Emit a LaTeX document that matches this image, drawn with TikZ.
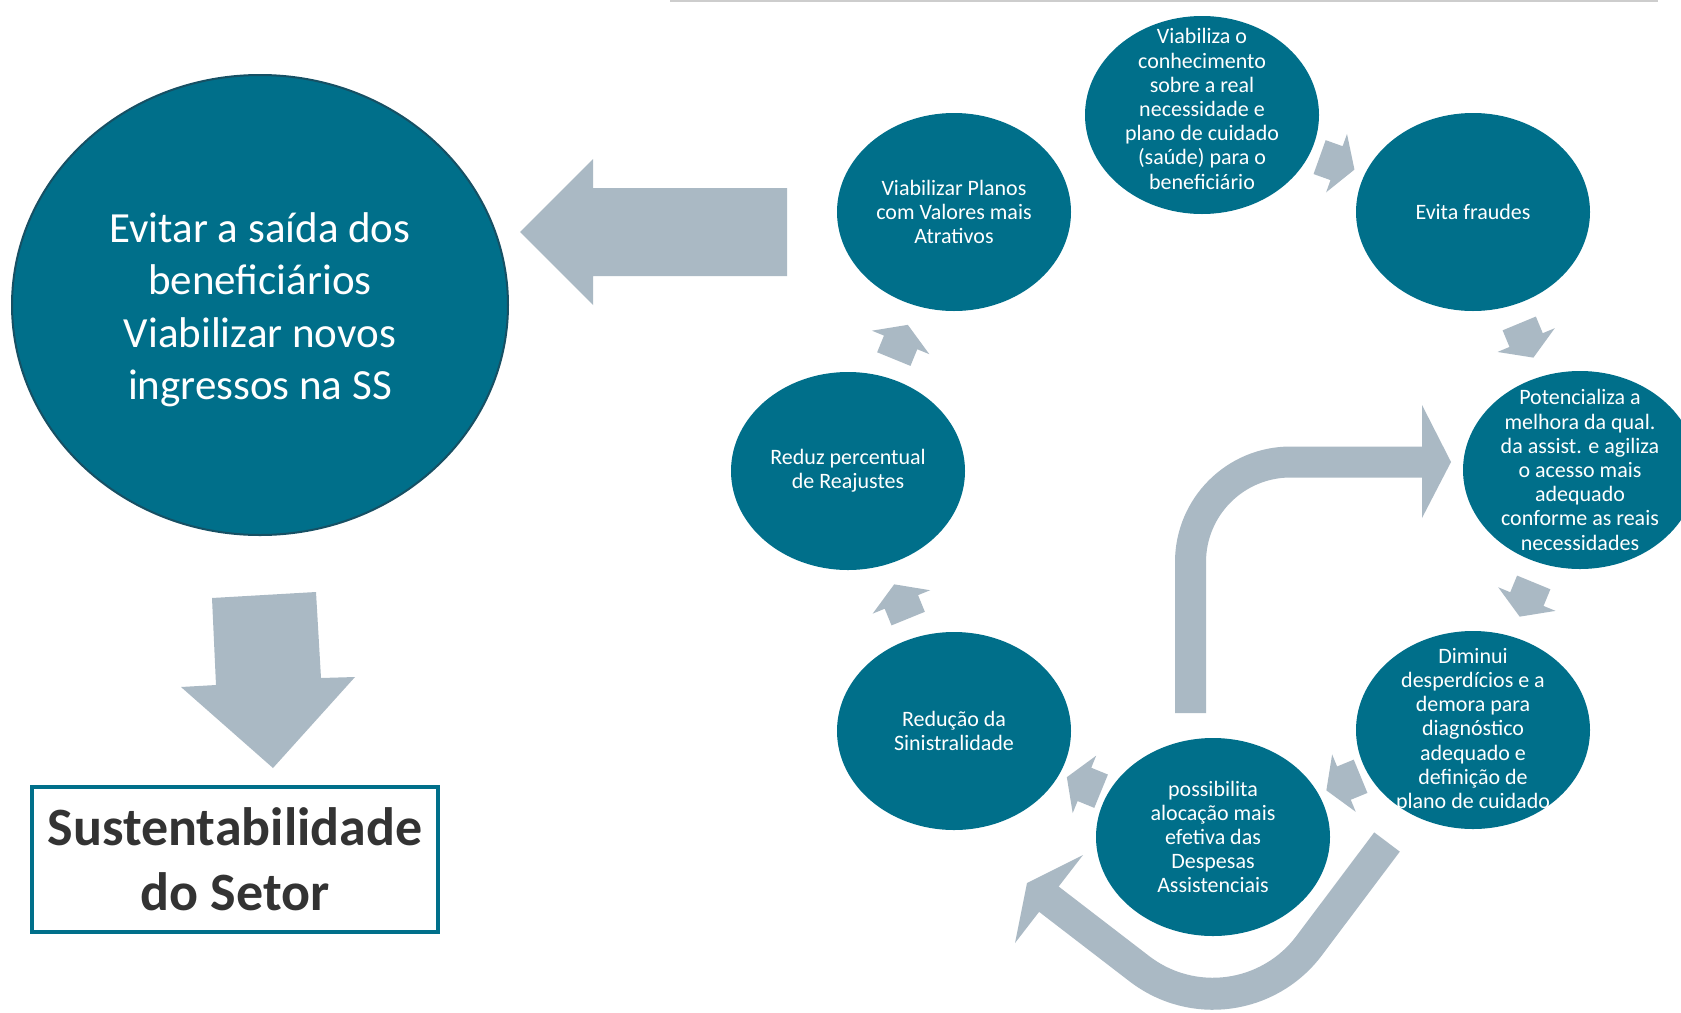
\documentclass[tikz,border=0pt]{standalone}
\usepackage{fontspec}
\setmainfont{Carlito}
\usetikzlibrary{shapes.geometric,calc}
\definecolor{tealfill}{RGB}{0,111,138}
\definecolor{tealedge}{RGB}{22,80,100}
\definecolor{arrowgray}{RGB}{170,185,196}
\definecolor{darktext}{RGB}{51,51,51}
\definecolor{ruleline}{RGB}{205,205,205}

\begin{document}
\begin{tikzpicture}[x=1pt,y=-1pt,
  bubble/.style={ellipse, fill=tealfill, minimum width=234pt, minimum height=198pt, inner sep=0pt},
  bubbletext/.style={text=white, align=center, inner sep=0pt, font=\fontsize{22}{24.2}\selectfont},
  chev/.pic={\fill[arrowgray] (-19,-18) -- (-1,-18) -- (-1,-31) -- (18,0) -- (-1,31) -- (-1,18) -- (-19,18) -- cycle;},
  bandarrow/.style={draw=arrowgray, line width=31pt},
]
% page frame
\fill[white] (0,0) rectangle (1681,1012);
\useasboundingbox (0,0) rectangle (1681,1012);

% thin rule along the top edge
\draw[ruleline, line width=2pt] (670,1) -- (1658,1);

% main goal
\node[ellipse, fill=tealfill, draw=tealedge, line width=2pt, minimum width=496pt, minimum height=460pt,
      inner sep=0pt, label={[text=white, align=center, inner sep=0pt, yshift=-5pt, font=\fontsize{43}{52.5}\selectfont]center:{Evitar a saída dos\\beneficiários\\Viabilizar novos\\ingressos na SS}}]
  (goal) at (260,305) {};

% result box
\node[draw=tealfill, line width=4pt, minimum width=406pt, minimum height=145pt, inner sep=0pt,
      text=darktext, align=center, font=\bfseries\fontsize{54}{65}\selectfont]
  (sust) at (235,859.5) {Sustentabilidade\\do Setor};

% cycle of effects
\node[bubble, label={[bubbletext, yshift=6pt]center:{Viabiliza o\\conhecimento\\sobre a real\\necessidade e\\plano de cuidado\\(saúde) para o\\beneficiário}}] (know) at (1202,115) {};
\node[bubble, label={[bubbletext]center:{Viabilizar Planos\\com Valores mais\\Atrativos}}] (plans) at (954,212) {};
\node[bubble, label={[bubbletext]center:{Evita fraudes}}] (fraud) at (1473,212) {};
\node[bubble, label={[bubbletext]center:{Reduz percentual\\de Reajustes}}] (adjust) at (848,471) {};
\node[bubble, label={[bubbletext]center:{Potencializa a\\melhora da qual.\\da assist. e agiliza\\o acesso mais\\adequado\\conforme as reais\\necessidades}}] (quality) at (1580,470) {};
\node[bubble, label={[bubbletext]center:{Redução da\\Sinistralidade}}] (claims) at (954,731) {};
\node[bubble, label={[bubbletext]center:{Diminui\\desperdícios e a\\demora para\\diagnóstico\\adequado e\\definição de\\plano de cuidado}}] (waste) at (1473,730) {};
\node[bubble, label={[bubbletext]center:{possibilita\\alocação mais\\efetiva das\\Despesas\\Assistenciais}}] (alloc) at (1213,837) {};

% small arrows between neighbouring bubbles
\foreach \a/\b in {know/fraud, fraud/quality, quality/waste, waste/alloc, alloc/claims, claims/adjust, adjust/plans}{
  \path let \p1=($(\b)-(\a)$), \n1={atan2(\y1,\x1)} in ($(\a)!0.5!(\b)$) pic[rotate=\n1] {chev};
}

% big arrow from the plans bubble to the goal
\fill[arrowgray] (520,232) -- (593,159) -- (593,188) -- (787,188) -- (787,276) -- (593,276) -- (593,305) -- cycle;

% big arrow from the goal down to the result box
\fill[arrowgray] (212,598) -- (316,592) -- (321,678) -- (355,677) -- (273,768) -- (181,687) -- (216,685) -- cycle;

% bent arrow rising from the allocation bubble to the quality bubble
\draw[bandarrow, rounded corners=100pt] (1190.5,713) -- (1190.5,462) -- (1424,462);
\fill[arrowgray] (1422,405) -- (1451,462) -- (1422,518) -- cycle;

% sweeping arrow below the allocation bubble
\draw[bandarrow, line width=32pt, rounded corners=122pt] (1387,842) -- (1236,1043) -- (1048,898.5);
\fill[arrowgray] (1083,855) -- (1027,883) -- (1015,943) -- cycle;

\end{tikzpicture}
\end{document}
